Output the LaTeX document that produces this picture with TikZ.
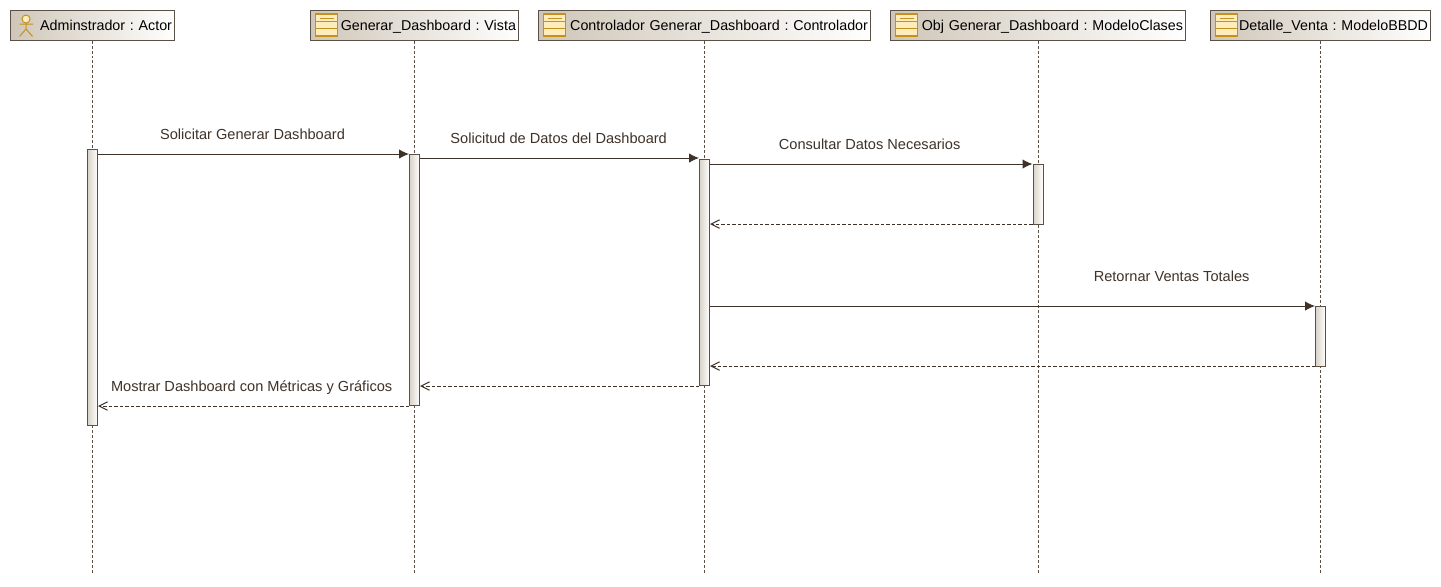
\documentclass[tikz,border=0pt]{standalone}
\usepackage{fontspec}
\setmainfont{Liberation Sans}
\usetikzlibrary{arrows.meta}
\frenchspacing
\definecolor{edgebrown}{HTML}{5B5046}
\definecolor{linebrown}{HTML}{3F3229}
\definecolor{headbeige}{HTML}{CFC6B8}
\definecolor{barbeige}{HTML}{D9D2C6}
\definecolor{icongold}{HTML}{C4911E}
\definecolor{iconfill}{HTML}{FDEDBC}
\tikzset{
  classicon/.pic={
    \draw[icongold,fill=iconfill,line width=.025cm] (6,-11) rectangle (28,11);
    \draw[icongold,line width=.016cm] (10,-7) -- (24,-7);
    \draw[icongold,line width=.02cm] (6,-3.6) -- (28,-3.6) (6,3.3) -- (28,3.3);
  },
  actoricon/.pic={
    \draw[icongold,fill=iconfill,line width=.02cm] (16.5,-6) circle (4);
    \draw[icongold,line width=.02cm] (16.5,-2) -- (16.5,4) (10,-1) -- (23.5,-1)
      (10,11.5) -- (16.5,4) -- (23,11.5);
  }
}
\begin{document}
\begin{tikzpicture}[x=.02cm,y=-.02cm,font=\fontsize{8.3}{10}\selectfont,
  head/.style={draw=edgebrown,line width=.02cm,left color=headbeige,right color=white,
    minimum height=.6cm,inner xsep=.06cm,inner ysep=0pt,align=right,text width=#1,
    text height=7.8pt,text depth=1pt,font=\fontsize{8.13}{10}\selectfont},
  bar/.style={draw=edgebrown,line width=.02cm,left color=barbeige,right color=white,
    minimum width=.2cm,inner sep=0pt,minimum height=#1},
  lifeline/.style={edgebrown,line width=.02cm,dash pattern=on .06cm off .04cm},
  call/.style={linebrown,line width=.02cm,-{Latex[length=.2cm,width=.19cm]}},
  return/.style={linebrown,line width=.02cm,dash pattern=on .07cm off .04cm,
    -{Straight Barb[length=.17cm,width=.17cm,line width=.02cm]}},
  lab/.style={inner sep=0pt,text height=6pt,text depth=2pt}]
\useasboundingbox[fill=white] (0,0) rectangle (1441,586);
% --- lifeline heads ---
\node[head=3.18cm]  (admin) at (92.5,25)  {Adminstrador : Actor};
\node[head=4.06cm] (vista) at (414.5,25) {Generar\_Dashboard : Vista};
\node[head=6.54cm] (ctrl)  at (704.5,25) {Controlador Generar\_Dashboard : Controlador};
\node[head=5.8cm] (obj)   at (1038,25)  {Obj Generar\_Dashboard : ModeloClases};
\node[head=4.3cm] (det)   at (1320.5,25){Detalle\_Venta : ModeloBBDD};
\pic at (admin.west) {actoricon};
\pic at (vista.west) {classicon};
\pic at (ctrl.west)  {classicon};
\pic at (obj.west)   {classicon};
\pic at (det.west)   {classicon};
% --- lifelines ---
\coordinate (bottom) at (0,575);
\draw[lifeline] (admin.south) -- (admin.south |- bottom);
\draw[lifeline] (vista.south) -- (vista.south |- bottom);
\draw[lifeline] (ctrl.south) -- (ctrl.south |- bottom);
\draw[lifeline] (obj.south) -- (obj.south |- bottom);
\draw[lifeline] (det.south) -- (det.south |- bottom);
% --- activation bars ---
\node[bar=5.54cm] (barAdmin) at (92.5,287.5)  {};
\node[bar=5.04cm] (barVista) at (414.5,280)   {};
\node[bar=4.54cm] (barCtrl)  at (704.5,272.5) {};
\node[bar=1.2cm]  (barObj)   at (1038,194)    {};
\node[bar=1.2cm]  (barDet)   at (1320.5,336)  {};
% --- message heights ---
\coordinate (m1) at (0,154);
\coordinate (m2) at (0,158);
\coordinate (m3) at (0,164);
\coordinate (m4) at (0,224);
\coordinate (m5) at (0,306);
\coordinate (m6) at (0,366);
\coordinate (m7) at (0,386);
\coordinate (m8) at (0,406);
% --- calls ---
\draw[call] (barAdmin.east |- m1) -- (barVista.west |- m1)
  node[lab,pos=.497,above=.21cm]{Solicitar Generar Dashboard};
\draw[call] (barVista.east |- m2) -- (barCtrl.west |- m2)
  node[lab,pos=.497,above=.21cm]{Solicitud de Datos del Dashboard};
\draw[call] (barCtrl.east |- m3) -- (barObj.west |- m3)
  node[lab,pos=.495,above=.21cm]{Consultar Datos Necesarios};
\draw[call] (barCtrl.east |- m5) -- (barDet.west |- m5)
  node[lab,pos=.763,above=.41cm]{Retornar Ventas Totales};
% --- returns ---
\draw[return] (barObj.west |- m4) -- (barCtrl.east |- m4);
\draw[return] (barDet.west |- m6) -- (barCtrl.east |- m6);
\draw[return] (barCtrl.west |- m7) -- (barVista.east |- m7);
\draw[return] (barVista.west |- m8) -- (barAdmin.east |- m8)
  node[lab,pos=.506,above=.21cm]{Mostrar Dashboard con Métricas y Gráficos};
\end{tikzpicture}
\end{document}
